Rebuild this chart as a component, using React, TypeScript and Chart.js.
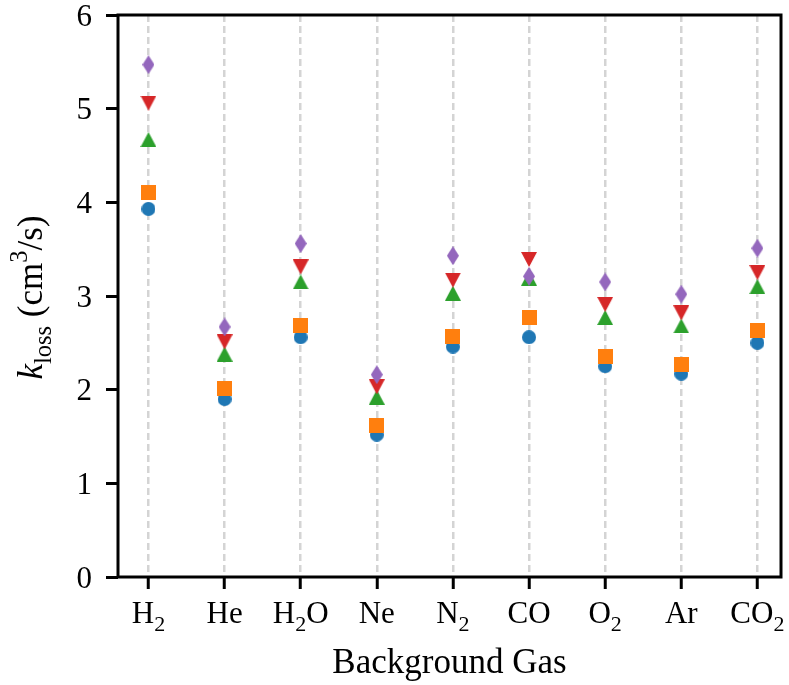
import { useEffect, useRef } from 'react';
import { Chart, registerables } from 'chart.js';

Chart.register(...registerables);

// ---- data ----
const categories = ['H_2', 'He', 'H_2O', 'Ne', 'N_2', 'CO', 'O_2', 'Ar', 'CO_2'];
const circleVals = [3.93, 1.9, 2.56, 1.52, 2.46, 2.56, 2.25, 2.17, 2.5];
const squareVals = [4.11, 2.01, 2.68, 1.62, 2.57, 2.77, 2.35, 2.27, 2.63];
const triUpVals = [4.67, 2.38, 3.15, 1.92, 3.03, 3.19, 2.77, 2.68, 3.1];
const triDownVals = [5.06, 2.51, 3.31, 2.03, 3.17, 3.39, 2.91, 2.82, 3.25];
const diamondVals = [5.47, 2.67, 3.56, 2.16, 3.43, 3.21, 3.15, 3.02, 3.51];
const yTicks = [0, 1, 2, 3, 4, 5, 6];
const xTitle = 'Background Gas';

const SERIF = '"Liberation Serif", "Times New Roman", serif';

type Part = { t: string; sub: boolean };
function parseLabel(s: string): Part[] {
  const out: Part[] = [];
  for (let i = 0; i < s.length; i++) {
    if (s[i] === '_' && i + 1 < s.length) {
      out.push({ t: s[i + 1], sub: true });
      i++;
    } else {
      const last = out[out.length - 1];
      if (last && !last.sub) last.t += s[i];
      else out.push({ t: s[i], sub: false });
    }
  }
  return out;
}

function makeMarker(kind: string, color: string): HTMLCanvasElement {
  const sizes: Record<string, [number, number]> = {
    circle: [14, 14],
    square: [15, 15],
    up: [16, 15],
    down: [16, 15],
    diamond: [12, 19],
  };
  const [w, h] = sizes[kind];
  const c = document.createElement('canvas');
  c.width = w;
  c.height = h;
  const g = c.getContext('2d')!;
  g.fillStyle = color;
  g.beginPath();
  if (kind === 'circle') g.arc(w / 2, h / 2, w / 2, 0, Math.PI * 2);
  else if (kind === 'square') g.rect(0, 0, w, h);
  else if (kind === 'up') {
    g.moveTo(w / 2, 0);
    g.lineTo(w, h);
    g.lineTo(0, h);
  } else if (kind === 'down') {
    g.moveTo(0, 0);
    g.lineTo(w, 0);
    g.lineTo(w / 2, h);
  } else {
    g.moveTo(w / 2, 0);
    g.lineTo(w, h / 2);
    g.lineTo(w / 2, h);
    g.lineTo(0, h / 2);
  }
  g.closePath();
  g.fill();
  return c;
}

const decorPlugin = {
  id: 'decor',
  afterDraw(chart: any) {
    const { ctx, chartArea: a, scales } = chart;
    const x = scales.x;
    const y = scales.y;
    ctx.save();
    // frame
    ctx.strokeStyle = '#000';
    ctx.lineWidth = 3;
    ctx.strokeRect(a.left, a.top, a.right - a.left, a.bottom - a.top);

    ctx.fillStyle = '#000';
    ctx.textBaseline = 'alphabetic';
    // y tick labels
    ctx.font = `31px ${SERIF}`;
    ctx.textAlign = 'right';
    yTicks.forEach((v) => {
      ctx.fillText(String(v), a.left - 26, y.getPixelForValue(v) + 10.5);
    });

    // x tick labels with subscripts
    const mainF = 31;
    const subF = 22;
    ctx.textAlign = 'left';
    categories.forEach((lab, i) => {
      const parts = parseLabel(lab);
      let total = 0;
      const widths = parts.map((p) => {
        ctx.font = `${p.sub ? subF : mainF}px ${SERIF}`;
        const w = ctx.measureText(p.t).width;
        total += w;
        return w;
      });
      let cx = x.getPixelForValue(i) - total / 2;
      const base = a.bottom + 46;
      parts.forEach((p, k) => {
        ctx.font = `${p.sub ? subF : mainF}px ${SERIF}`;
        ctx.fillText(p.t, cx, base + (p.sub ? 7.5 : 0));
        cx += widths[k];
      });
    });

    // x title
    ctx.font = `35px ${SERIF}`;
    ctx.textAlign = 'center';
    ctx.fillText(xTitle, (a.left + a.right) / 2, a.bottom + 96);

    // y title: k_loss (cm^3/s)
    const F = 35;
    const S = 24.5;
    const pieces = [
      { t: 'k', font: `italic ${F}px ${SERIF}`, dy: 0 },
      { t: 'loss', font: `${S}px ${SERIF}`, dy: 8.5 },
      { t: ' (cm', font: `${F}px ${SERIF}`, dy: 0 },
      { t: '3', font: `${S}px ${SERIF}`, dy: -15 },
      { t: '/s)', font: `${F}px ${SERIF}`, dy: 0 },
    ];
    let tw = 0;
    const pw = pieces.map((p) => {
      ctx.font = p.font;
      const w = ctx.measureText(p.t).width;
      tw += w;
      return w;
    });
    ctx.translate(42, (a.top + a.bottom) / 2 + 1.5);
    ctx.rotate(-Math.PI / 2);
    ctx.textAlign = 'left';
    let px = -tw / 2;
    pieces.forEach((p, k) => {
      ctx.font = p.font;
      ctx.fillText(p.t, px, p.dy);
      px += pw[k];
    });
    ctx.restore();
  },
};

export default function App() {
  const ref = useRef<HTMLCanvasElement | null>(null);

  useEffect(() => {
    document.body.style.margin = '0';
    const canvas = ref.current;
    if (!canvas) return;

    const series = [
      { label: 'diamond', vals: diamondVals, color: '#9467bd', kind: 'diamond' },
      { label: 'down', vals: triDownVals, color: '#d62728', kind: 'down' },
      { label: 'up', vals: triUpVals, color: '#2ca02c', kind: 'up' },
      { label: 'square', vals: squareVals, color: '#ff7f0e', kind: 'square' },
      { label: 'circle', vals: circleVals, color: '#1f77b4', kind: 'circle' },
    ];

    const chart = new Chart(canvas, {
      type: 'scatter',
      data: {
        datasets: series.map((s) => ({
          label: s.label,
          data: s.vals.map((v, i) => ({ x: i, y: v })),
          pointStyle: makeMarker(s.kind, s.color) as any,
          pointRadius: 8,
          backgroundColor: s.color,
          borderColor: s.color,
          borderWidth: 0,
        })),
      },
      options: {
        animation: false,
        responsive: true,
        maintainAspectRatio: false,
        events: [],
        layout: { padding: { top: 15, right: 8, left: 0, bottom: 0 } },
        plugins: {
          legend: { display: false },
          tooltip: { enabled: false },
        },
        scales: {
          x: {
            type: 'linear',
            min: -0.4,
            max: 8.31,
            afterBuildTicks: (s: any) => {
              s.ticks = categories.map((_, i) => ({ value: i }));
            },
            afterFit: (s: any) => {
              s.height = 108;
            },
            ticks: { display: false },
            grid: {
              color: '#d4d4d4',
              lineWidth: 2.5,
              drawTicks: true,
              tickLength: 12,
              tickWidth: 3,
              tickColor: '#000',
              tickBorderDash: [],
            },
            border: { display: false, dash: [7, 4] },
          },
          y: {
            type: 'linear',
            min: 0,
            max: 6,
            afterBuildTicks: (s: any) => {
              s.ticks = yTicks.map((v) => ({ value: v }));
            },
            afterFit: (s: any) => {
              s.width = 118;
            },
            ticks: { display: false },
            grid: {
              drawOnChartArea: false,
              drawTicks: true,
              tickLength: 12,
              tickWidth: 3,
              tickColor: '#000',
            },
            border: { display: false },
          },
        },
      } as any,
      plugins: [decorPlugin],
    });

    return () => chart.destroy();
  }, []);

  return (
    <div style={{ position: 'relative', width: 789, height: 685 }}>
      <canvas ref={ref} />
    </div>
  );
}
